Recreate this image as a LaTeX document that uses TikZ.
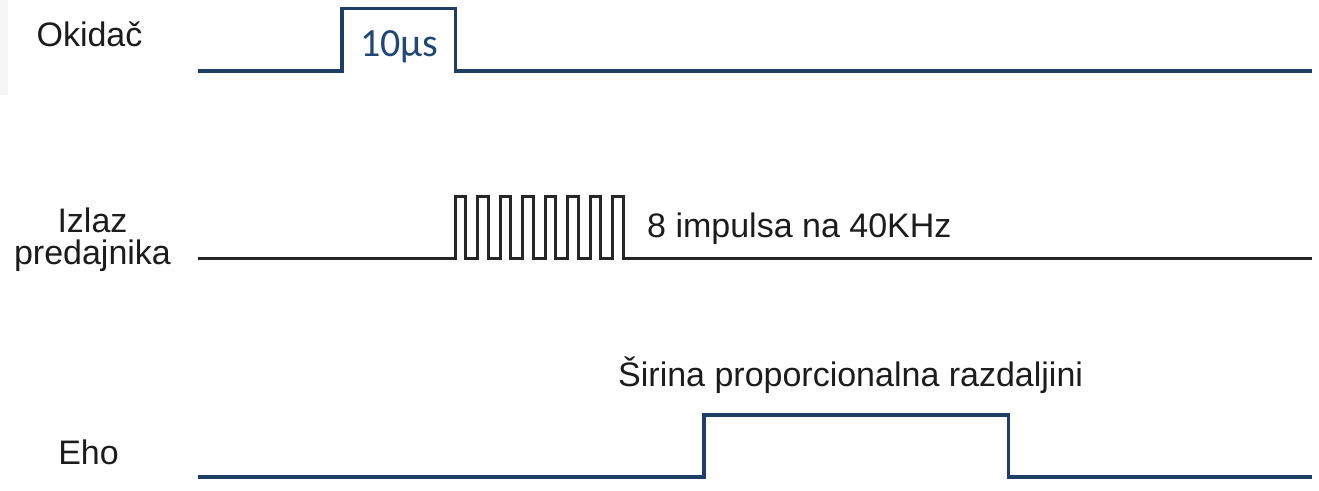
\documentclass[tikz,border=0pt]{standalone}
\usepackage{fontspec}
\setmainfont{Liberation Sans}
\newfontfamily\calfont{Carlito}
\definecolor{sigblue}{RGB}{31,62,102}
\definecolor{txtblue}{RGB}{34,70,118}
\definecolor{txtdark}{RGB}{28,28,28}
\definecolor{panelgray}{RGB}{246,246,246}
\begin{document}
\begin{tikzpicture}[x=1pt,y=-1pt,
  lbl/.style={inner sep=0pt,text=txtdark,font=\fontsize{34}{40}\selectfont},
  bluesig/.style={draw=sigblue,line width=3.2pt,line join=miter},
  blacksig/.style={draw=black!85,line width=3pt,line join=miter}]
\useasboundingbox (0,0) rectangle (1319,490);
\fill[panelgray] (0,0) rectangle (8,95);
% labels
\node[lbl,anchor=base] (okidac) at (89.5,46) {Okidač};
\node[lbl,anchor=base] (izlaz) at (92.5,232) {Izlaz};
\node[lbl,anchor=base] (predaj) at (92.5,264) {predajnika};
\node[lbl,anchor=base] (eho) at (88.5,464) {Eho};
\node[inner sep=0pt,anchor=base,text=txtblue,font=\calfont\fontsize{40}{46}\selectfont] (t10) at (399.5,56) {10µs};
\node[lbl,anchor=base west] (imp) at (647,237) {8 impulsa na 40KHz};
\node[lbl,anchor=base west] (sir) at (618,386) {Širina proporcionalna razdaljini};
% trigger
\coordinate (a0) at (198,71);
\coordinate (a1) at (1312,71);
\draw[bluesig] (a0) -- (342,71) -- (342,8.5) -- (455.5,8.5) -- (455.5,71) -- (a1);
% transmitter output
\coordinate (b0) at (198,258.5);
\coordinate (b1) at (1312,258.5);
\draw[blacksig] (b0) -- (455,258.5)
  \foreach \k in {0,...,7} {
    -- ({455+22.5*\k},258.5) -- ({455+22.5*\k},196) -- ({465.5+22.5*\k},196) -- ({465.5+22.5*\k},258.5)
  } -- (b1);
% echo
\coordinate (c0) at (198,477);
\coordinate (c1) at (1312,477);
\draw[bluesig] (c0) -- (704,477) -- (704,415) -- (1008.5,415) -- (1008.5,477) -- (c1);
\end{tikzpicture}
\end{document}
